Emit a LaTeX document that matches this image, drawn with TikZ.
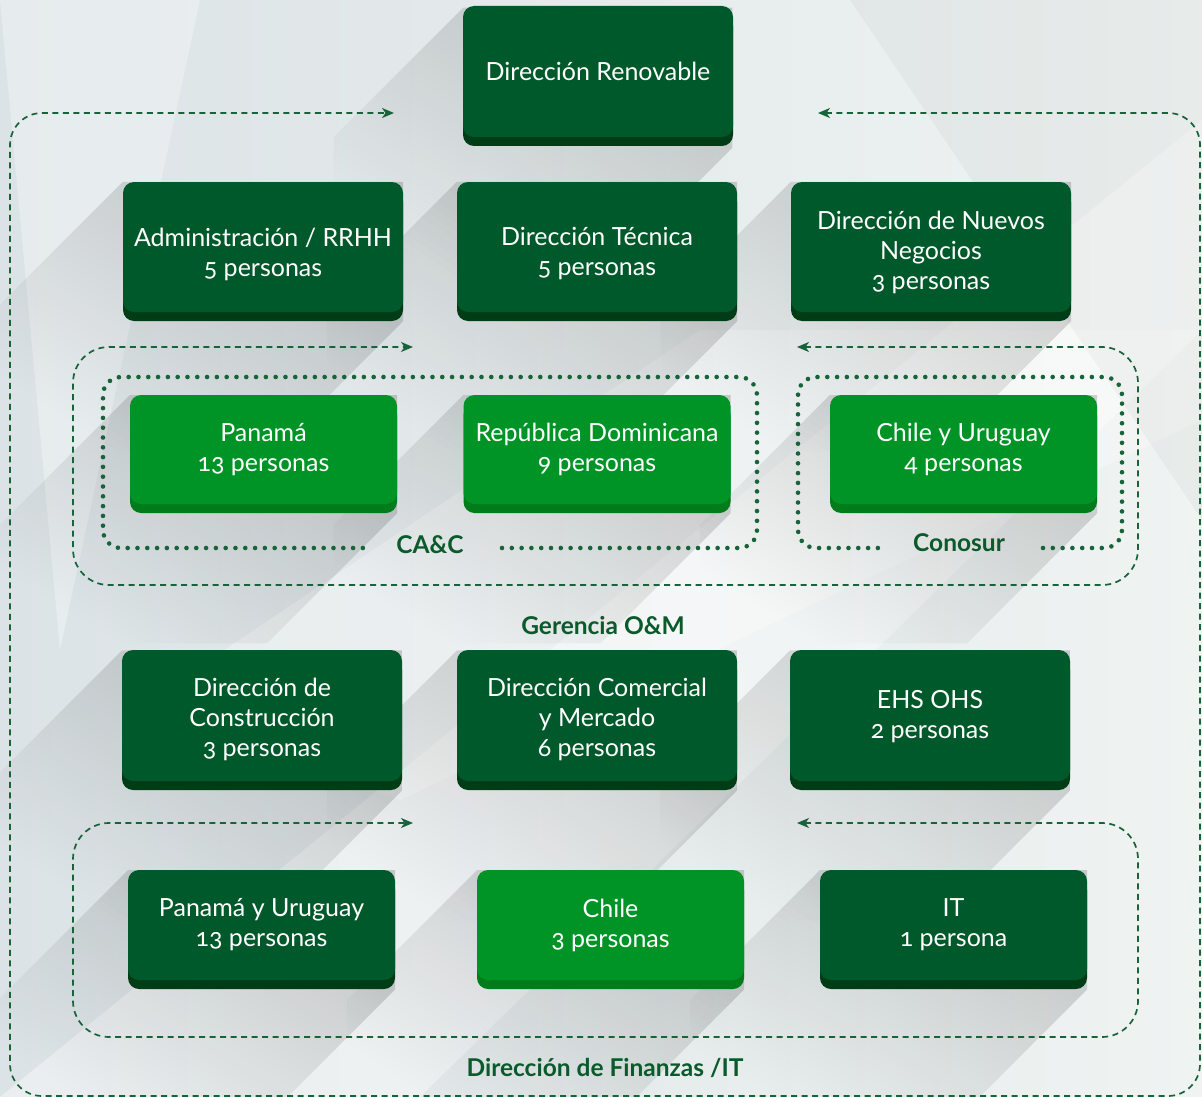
\documentclass[tikz,border=0pt]{standalone}
\usepackage{fontspec}
\setmainfont{Lato}[Numbers=OldStyle]
\usetikzlibrary{arrows.meta,fadings,calc}
\definecolor{dkface}{HTML}{00592A}
\definecolor{dkband}{HTML}{003D17}
\definecolor{ltface}{HTML}{009426}
\definecolor{ltband}{HTML}{007C1A}
\definecolor{lbl}{HTML}{0A5A2B}
\definecolor{lnc}{HTML}{17633A}
\definecolor{bgA}{HTML}{DCE3E6}
\definecolor{bgB}{HTML}{EFF3F2}
\pgfdeclarelayer{bgl}
\pgfdeclarelayer{shl}
\pgfsetlayers{bgl,shl,main}
\tikzfading[name=shfade, left color=transparent!100, middle color=transparent!85, right color=transparent!0]
\begin{document}
\begin{tikzpicture}[x=1pt,y=-1pt,
  box/.style={rectangle, rounded corners=11pt, inner sep=0pt},
  dk/.style={box, fill=dkface, preaction={fill=dkband, transform canvas={yshift=-9pt}}, minimum width=280pt, minimum height=130pt},
  lt/.style={box, fill=ltface, preaction={fill=ltband, transform canvas={yshift=-9pt}}, minimum width=267pt, minimum height=109pt},
  txt/.style={text=white, font=\fontsize{25}{30}\selectfont, align=center, inner sep=0pt},
  grp/.style={text=lbl, font=\bfseries\fontsize{24.5}{28}\selectfont, inner sep=0pt},
  lp/.style={draw=lnc, line width=1.7pt, dash pattern=on 6pt off 4.5pt, >={Stealth[length=12pt,width=10pt,inset=3.5pt]}, <->},
  dt/.style={draw=lnc, line width=4.6pt, dash pattern=on 0pt off 9.8pt, line cap=round, rounded corners=18pt},
  shadowfill/.style={fill=black, fill opacity=0.17, path fading=shfade, fading angle=45}
]
\useasboundingbox (0,0) rectangle (1202,1097);
\begin{pgfonlayer}{bgl}
  \shade[left color=bgA, right color=bgB] (0,0) rectangle (1202,1097);
  \fill[white, opacity=0.4] (0,1097) -- (420,1097) -- (1202,330) -- (1202,120) -- cycle;
  \fill[white, opacity=0.3] (150,700) -- (700,330) -- (1202,330) -- (1202,420) -- (400,800) -- cycle;
  \fill[white, opacity=0.3] (0,0) -- (60,650) -- (200,0) -- cycle;
  \fill[black, opacity=0.03] (850,0) -- (1202,0) -- (1202,520) -- cycle;
\end{pgfonlayer}

% boxes
\node[dk, minimum width=270pt, minimum height=131pt, label={[txt]center:Dirección Renovable}] (ren) at (598,71.5) {};
\node[dk, label={[txt,yshift=-7pt]center:{Administración / RRHH\\5 personas}}] (adm) at (263,247) {};
\node[dk, label={[txt,yshift=-7pt]center:{Dirección Técnica\\5 personas}}] (tec) at (597,247) {};
\node[dk, label={[txt,yshift=-5pt]center:{Dirección de Nuevos\\Negocios\\3 personas}}] (neg) at (931,247) {};

\node[lt, label={[txt]center:{Panamá\\13 personas}}] (pan) at (263.5,449.5) {};
\node[lt, label={[txt]center:{República Dominicana\\9 personas}}] (rd) at (597,449.5) {};
\node[lt, label={[txt]center:{Chile y Uruguay\\4 personas}}] (cu) at (963.5,449.5) {};

\node[dk, minimum height=131pt, label={[txt,yshift=-4pt]center:{Dirección de\\Construcción\\3 personas}}] (con) at (262,715.5) {};
\node[dk, minimum height=131pt, label={[txt,yshift=-4pt]center:{Dirección Comercial\\y Mercado\\6 personas}}] (com) at (597,715.5) {};
\node[dk, minimum height=131pt, label={[txt,yshift=-1pt]center:{EHS OHS\\2 personas}}] (ehs) at (930,715.5) {};

\node[dk, minimum width=267pt, minimum height=110pt, label={[txt]center:{Panamá y Uruguay\\13 personas}}] (pu) at (261.5,925) {};
\node[lt, minimum height=110pt, label={[txt]center:{Chile\\3 personas}}] (chi) at (610.5,925) {};
\node[dk, minimum width=267pt, minimum height=110pt, label={[txt]center:{IT\\1 persona}}] (it) at (953.5,925) {};

% long shadows
\begin{pgfonlayer}{shl}
\foreach \n in {ren,adm,tec,neg,pan,rd,cu,con,com,ehs,pu,chi,it}{
  \fill[shadowfill] (\n.north west) -- (\n.north east) -- ($(\n.south east)+(0,9)$)
     -- ($(\n.south east)+(-130,139)$) -- ($(\n.south west)+(-130,139)$)
     -- ($(\n.north west)+(-130,130)$) -- cycle;
}
\end{pgfonlayer}

% dashed loops
\coordinate (oL) at (394,113); \coordinate (oR) at (818,113);
\draw[lp, rounded corners=32pt] (oR) -- (1200,113) -- (1200,1096) -- (10,1096) -- (10,113) -- (oL);
\coordinate (gL) at (413,347); \coordinate (gR) at (797,347);
\draw[lp, rounded corners=36pt] (gR) -- (1138,347) -- (1138,585) -- (73,585) -- (73,347) -- (gL);
\coordinate (fL) at (413,823); \coordinate (fR) at (797,823);
\draw[lp, rounded corners=36pt] (fR) -- (1138,823) -- (1138,1037) -- (73,1037) -- (73,823) -- (fL);

% dotted groups
\coordinate (cA) at (502,548); \coordinate (cB) at (372,548);
\draw[dt] (cA) -- (757,548) -- (757,377) -- (103,377) -- (103,548) -- (cB);
\coordinate (kA) at (1043,548); \coordinate (kB) at (884,548);
\draw[dt] (kA) -- (1122,548) -- (1122,377) -- (798,377) -- (798,548) -- (kB);

% group labels
\node[grp] (lcac) at (430,545) {CA\&C};
\node[grp] (lcono) at (959,543) {Conosur};
\node[grp] (lger) at (603,626) {Gerencia O\&M};
\node[grp] (lfin) at (605,1068) {Dirección de Finanzas /IT};
\end{tikzpicture}
\end{document}
